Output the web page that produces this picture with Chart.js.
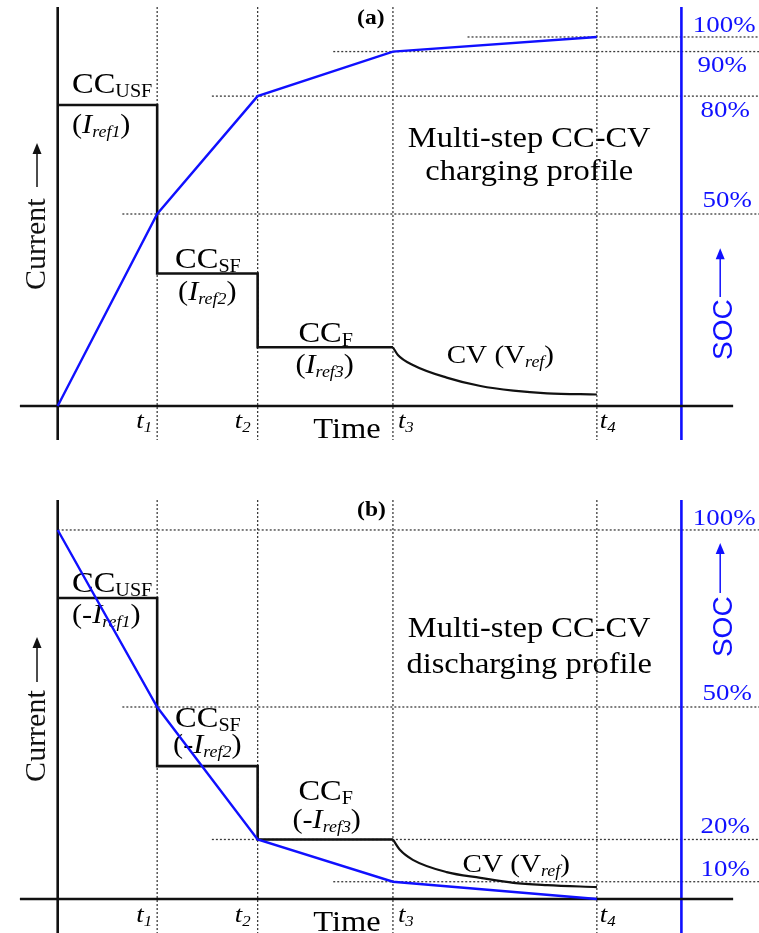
<!DOCTYPE html>
<html lang="en">
<head>
<meta charset="UTF-8">
<title>Multi-step CC-CV charging / discharging profiles</title>
<script src="https://cdn.jsdelivr.net/npm/chart.js"></script>
<style>
    body { margin: 0; background: #fff; }
    canvas { position: absolute; left: 0; }
</style>
</head>
<body>
<canvas id="chargeChart" width="759" height="466" style="top:0"></canvas>
<canvas id="dischargeChart" width="759" height="467" style="top:466px"></canvas>
<script>
// time marks t1..t4 (time units, t = 0 at the current axis)
const tMarks = [1, 2.01, 3.37, 5.42];
const tNames = ['1', '2', '3', '4'];

// (a) charging: current steps, CV tail and SOC (plot level units)
const chgStepT = [0, 1, 1, 2.01, 2.01, 3.37];
const chgStepI = [78.4, 78.4, 34.5, 34.5, 15.3, 15.3];
const chgCvT = [3.37, 3.42, 3.57, 3.91, 4.25, 4.58, 4.92, 5.42];
const chgCvI = [15.3, 13.3, 10.7, 7.4, 5.2, 4.0, 3.3, 3.0];
const chgSocT = [0, 1, 2.01, 3.37, 5.42];
const chgSoc = [0, 50, 80.7, 92.3, 96.1];
const chgGuideLv = [96.1, 92.3, 80.7, 50];
const chgGuideFrom = [4.12, 2.77, 1.55, 0.65];
const chgSocLabels = ['100%', '90%', '80%', '50%'];

// (b) discharging
const dchStepT = [0, 1, 1, 2.01, 2.01, 3.37];
const dchStepI = [78.4, 78.4, 34.6, 34.6, 15.5, 15.5];
const dchCvT = [3.37, 3.44, 3.57, 3.91, 4.25, 4.58, 4.92, 5.42];
const dchCvI = [15.5, 12.8, 10.2, 7.0, 5.5, 4.2, 3.6, 3.1];
const dchSocT = [0, 1, 2.01, 3.37, 5.42];
const dchSoc = [96.1, 50, 15.5, 4.5, 0];
const dchGuideLv = [96.1, 50, 15.5, 4.5];
const dchGuideFrom = [0, 0.65, 1.55, 2.77];
const dchSocLabels = ['100%', '50%', '20%', '10%'];

const BLUE = '#1010ff';
const DOT = '#3a3a3a';
const SERIF = '"Liberation Serif", "Times New Roman", serif';
const F_BIG = '29px ' + SERIF;
const F_SUB = '18px ' + SERIF;
const F_PAR = '27px ' + SERIF;
const F_IT = 'italic 27px ' + SERIF;
const F_ITSUB = 'italic 16px ' + SERIF;
const F_CV = '26px ' + SERIF;
const F_PCT = '24px ' + SERIF;
const SX = 1.12; // the source figure is a bit wider than tall

const yTop = 103.9, yBot = -8.85, socAxisT = 6.27;

function pts(xs, ys) {
    return xs.map((x, i) => ({ x: x, y: ys[i] }));
}

function cc(sub) {
    return [['CC', F_BIG, 0], [sub, F_SUB, 4]];
}
function iref(n, neg) {
    return [[neg ? '(-' : '(', F_PAR, 0], ['I', F_IT, 0], ['ref' + n, F_ITSUB, 4], [')', F_PAR, 0]];
}
function cv() {
    return [['CV (V', F_CV, 0], ['ref', F_ITSUB, 4], [')', F_CV, 0]];
}

function drawRich(ctx, x, y, parts, color, align) {
    ctx.save();
    ctx.translate(x, y);
    ctx.scale(SX, 1);
    ctx.fillStyle = color;
    let w = 0;
    parts.forEach(p => { ctx.font = p[1]; w += ctx.measureText(p[0]).width; });
    let cx = align === 'center' ? -w / 2 : 0;
    parts.forEach(p => {
        ctx.font = p[1];
        ctx.fillText(p[0], cx, p[2]);
        cx += ctx.measureText(p[0]).width;
    });
    ctx.restore();
}

function arrowUp(ctx, x, y0, y1, color) {
    ctx.save();
    ctx.strokeStyle = color;
    ctx.fillStyle = color;
    ctx.lineWidth = 1.5;
    ctx.beginPath();
    ctx.moveTo(x, y0);
    ctx.lineTo(x, y1 + 9);
    ctx.stroke();
    ctx.beginPath();
    ctx.moveTo(x, y1);
    ctx.lineTo(x - 4.5, y1 + 11);
    ctx.lineTo(x + 4.5, y1 + 11);
    ctx.closePath();
    ctx.fill();
    ctx.restore();
}

function notesPlugin(texts, sideLabels) {
    return {
        id: 'notes',
        beforeDatasetsDraw(chart) {
            const ctx = chart.ctx, xs = chart.scales.x, ys = chart.scales.y;
            ctx.save();
            ctx.textBaseline = 'alphabetic';
            texts.forEach(n => {
                drawRich(ctx, xs.getPixelForValue(n.x), ys.getPixelForValue(n.y), n.parts, n.color || '#000', n.align);
            });
            sideLabels.forEach(n => {
                ctx.save();
                ctx.translate(xs.getPixelForValue(n.x), ys.getPixelForValue(n.y));
                ctx.rotate(-Math.PI / 2);
                ctx.font = n.font;
                ctx.fillStyle = n.color;
                ctx.textAlign = 'left';
                ctx.fillText(n.text, 0, 0);
                ctx.restore();
                arrowUp(ctx, xs.getPixelForValue(n.ax), ys.getPixelForValue(n.a0), ys.getPixelForValue(n.a1), n.color);
            });
            ctx.restore();
        }
    };
}

function line(data, color, width, extra) {
    return Object.assign({
        data: data, borderColor: color, borderWidth: width,
        pointRadius: 0, fill: false, tension: 0
    }, extra || {});
}

function buildDatasets(stepT, stepI, cvT, cvI, socT, soc, guideLv, guideFrom) {
    const ds = [];
    ds.push(line(pts(socT, soc), BLUE, 2.4));
    ds.push(line(pts(stepT, stepI), '#111', 2.6));
    ds.push(line(pts(cvT, cvI), '#111', 2.2, { cubicInterpolationMode: 'monotone' }));
    ds.push(line(pts([0, 0], [yTop, yBot]), '#111', 2.6));
    ds.push(line(pts([-0.38, 6.79], [0, 0]), '#111', 2.6));
    ds.push(line(pts([socAxisT, socAxisT], [yTop, yBot]), BLUE, 2.6));
    tMarks.forEach(t => ds.push(line(pts([t, t], [yTop, yBot]), DOT, 1.3, { borderDash: [2, 2] })));
    guideLv.forEach((lv, i) => ds.push(line(pts([guideFrom[i], 7.05], [lv, lv]), DOT, 1.3, { borderDash: [2, 2] })));
    return ds;
}

function tLabels(y) {
    const xs = [0.79, 1.78, 3.42, 5.45];
    return tNames.map((n, i) => ({ x: xs[i], y: y, parts: [['t', 'italic 24px ' + SERIF, 0], [n, 'italic 15px ' + SERIF, 4]] }));
}

function makeChart(id, datasets, yMin, yMax, texts, sideLabels) {
    return new Chart(document.getElementById(id), {
        type: 'line',
        data: { datasets: datasets },
        options: {
            responsive: false,
            animation: false,
            events: [],
            layout: { padding: 0 },
            plugins: { legend: { display: false }, tooltip: { enabled: false } },
            scales: {
                x: { type: 'linear', min: -0.58, max: 7.05, display: false },
                y: { type: 'linear', min: yMin, max: yMax, display: false }
            }
        },
        plugins: [notesPlugin(texts, sideLabels)]
    });
}

// (a) charging
const chargeTexts = [
    { x: 0.144, y: 81.5, parts: cc('USF') },
    { x: 0.144, y: 71.1, parts: iref(1) },
    { x: 1.18, y: 35.9, parts: cc('SF') },
    { x: 1.21, y: 27.6, parts: iref(2) },
    { x: 2.42, y: 16.7, parts: cc('F') },
    { x: 2.39, y: 8.6, parts: iref(3) },
    { x: 3.91, y: 11.2, parts: cv() },
    { x: 4.74, y: 67.4, parts: [['Multi-step CC-CV', F_BIG, 0]], align: 'center' },
    { x: 4.74, y: 58.9, parts: [['charging profile', F_BIG, 0]], align: 'center' },
    { x: 2.57, y: -8.3, parts: [['Time', F_BIG, 0]] },
    { x: 3.01, y: 99.5, parts: [['(a)', 'bold 21px ' + SERIF, 0]] }
].concat(tLabels(-5.7));
[[6.70, 97.4], [6.68, 87.0], [6.71, 75.3], [6.73, 51.8]].forEach((p, i) => {
    chargeTexts.push({ x: p[0], y: p[1], parts: [[chgSocLabels[i], F_PCT, 0]], color: BLUE, align: 'center' });
});
const chargeSide = [
    { text: 'Current', font: '30px ' + SERIF, color: '#111', x: -0.128, y: 30.2, ax: -0.208, a0: 57.0, a1: 68.5 },
    { text: 'SOC', font: '28px "Liberation Sans", Arial, sans-serif', color: BLUE, x: 6.78, y: 12.0, ax: 6.66, a0: 28.4, a1: 41.1 }
];

// (b) discharging
const dischargeTexts = [
    { x: 0.144, y: 79.9, parts: cc('USF') },
    { x: 0.144, y: 71.9, parts: iref(1, true) },
    { x: 1.18, y: 44.8, parts: cc('SF') },
    { x: 1.16, y: 38.0, parts: iref(2, true) },
    { x: 2.42, y: 25.8, parts: cc('F') },
    { x: 2.36, y: 18.5, parts: iref(3, true) },
    { x: 4.07, y: 7.0, parts: cv() },
    { x: 4.74, y: 68.2, parts: [['Multi-step CC-CV', F_BIG, 0]], align: 'center' },
    { x: 4.74, y: 58.9, parts: [['discharging profile', F_BIG, 0]], align: 'center' },
    { x: 2.57, y: -8.3, parts: [['Time', F_BIG, 0]] },
    { x: 3.01, y: 99.7, parts: [['(b)', 'bold 21px ' + SERIF, 0]] }
].concat(tLabels(-6.0));
[[6.70, 97.4], [6.73, 51.8], [6.71, 17.2], [6.71, 6.0]].forEach((p, i) => {
    dischargeTexts.push({ x: p[0], y: p[1], parts: [[dchSocLabels[i], F_PCT, 0]], color: BLUE, align: 'center' });
});
const dischargeSide = [
    { text: 'Current', font: '30px ' + SERIF, color: '#111', x: -0.128, y: 30.5, ax: -0.208, a0: 56.5, a1: 68.2 },
    { text: 'SOC', font: '28px "Liberation Sans", Arial, sans-serif', color: BLUE, x: 6.78, y: 63.0, ax: 6.66, a0: 79.7, a1: 92.7 }
];

makeChart('chargeChart',
    buildDatasets(chgStepT, chgStepI, chgCvT, chgCvI, chgSocT, chgSoc, chgGuideLv, chgGuideFrom),
    -15.625, 105.73, chargeTexts, chargeSide);

makeChart('dischargeChart',
    buildDatasets(dchStepT, dchStepI, dchCvT, dchCvI, dchSocT, dchSoc, dchGuideLv, dchGuideFrom),
    -8.854, 112.76, dischargeTexts, dischargeSide);
</script>
</body>
</html>
